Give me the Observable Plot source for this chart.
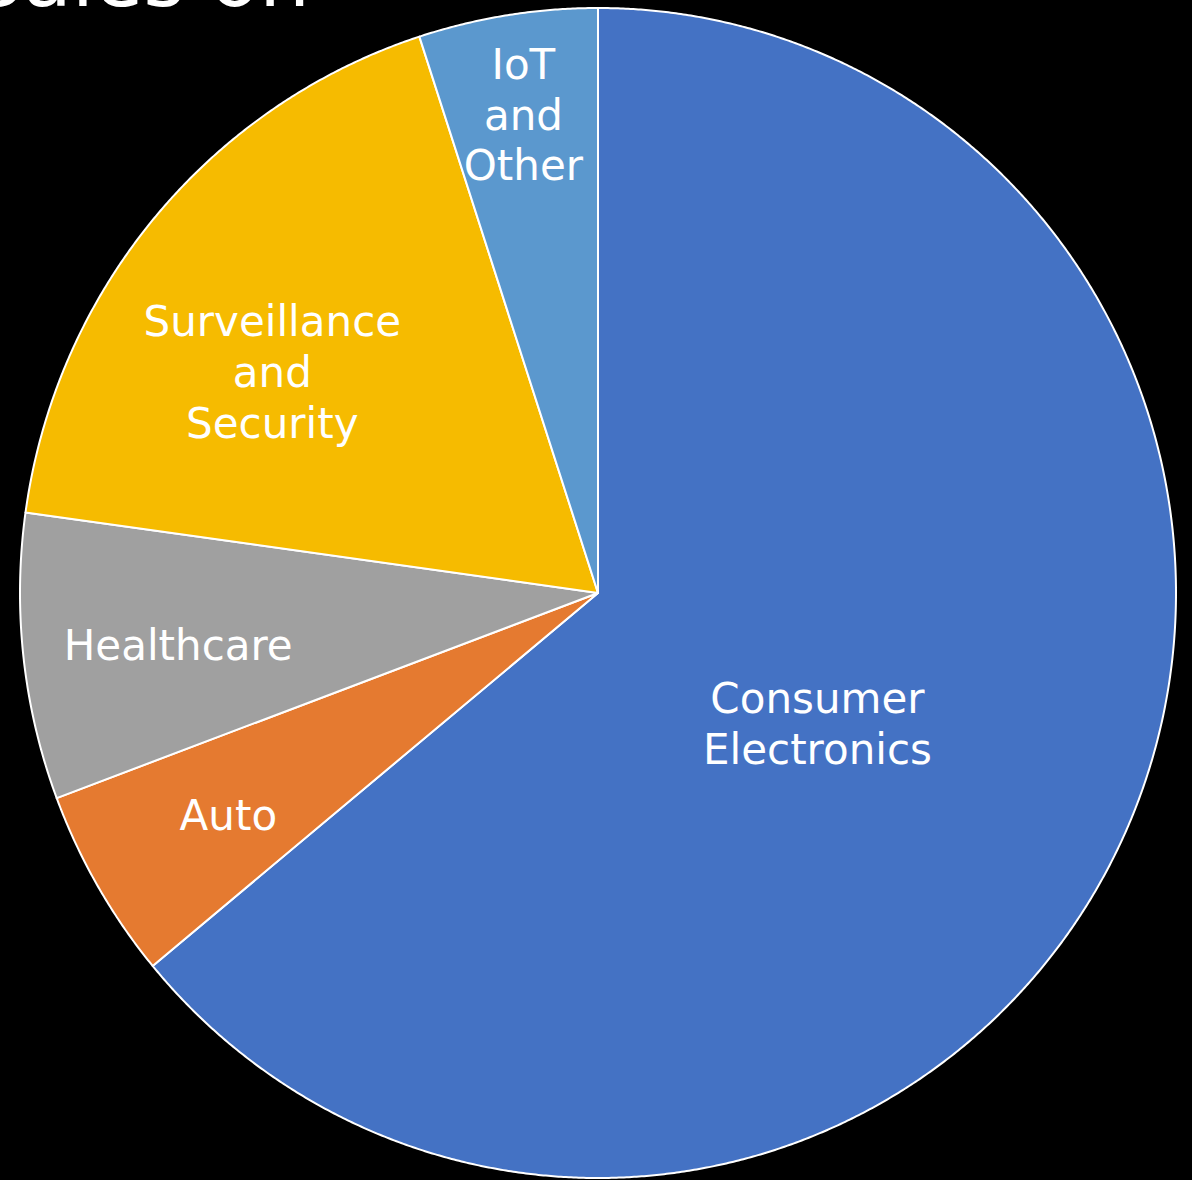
<!DOCTYPE html>
<html>
<head>
<meta charset="utf-8">
<script src="https://cdn.jsdelivr.net/npm/d3@7"></script>
<script src="https://cdn.jsdelivr.net/npm/@observablehq/plot@0.6"></script>
<style>
  html, body { margin: 0; padding: 0; background: #000; overflow: hidden; }
  #wrap { position: relative; width: 1192px; height: 1180px; overflow: hidden; }
  #title { position: absolute; right: 882px; top: -61px; text-align: right; font-family: "DejaVu Sans", sans-serif; font-size: 80px; color: #fff; white-space: nowrap; line-height: 1; }
</style>
</head>
<body>
<div id="wrap">
  <div id="chart"></div>
  <div id="title">Sales on</div>
</div>
<script>
// Data (clockwise from 12 o'clock)
const categories = ["Consumer Electronics", "Auto", "Healthcare", "Surveillance and Security", "IoT and Other"];
const shares = [64.0, 5.3, 7.9, 17.8, 5.0];
const labels = ["Consumer\nElectronics", "Auto", "Healthcare", "Surveillance\nand\nSecurity", "IoT\nand\nOther"];
const colors = ["#4472C4", "#E57A30", "#A0A0A0", "#F6BB00", "#5B98CE"];

// Layout constants
const W = 1192, H = 1180;
const CX = 597.5, CY = 592.5, RX = 578, RY = 585;
const labelPlace = [ [0.442, 5.6], [0.745, -0.8], [0.732, -0.9], [0.677, -6.3], [0.825, 0] ]; // [radius fraction, angle shift deg]

const pie = d3.pie().sort(null).value(d => d)(shares);

const pts = [];
pie.forEach((p, i) => {
  const name = categories[i];
  pts.push({name, x: 0, y: 0});
  const n = Math.max(4, Math.ceil((p.endAngle - p.startAngle) / (Math.PI / 720)));
  for (let k = 0; k <= n; k++) {
    const a = p.startAngle + (p.endAngle - p.startAngle) * k / n;
    pts.push({name, x: Math.sin(a), y: Math.cos(a)});
  }
});

const labelData = pie.map((p, i) => {
  const a = (p.startAngle + p.endAngle) / 2 + labelPlace[i][1] * Math.PI / 180;
  const r = labelPlace[i][0];
  return {name: categories[i], text: labels[i], x: r * Math.sin(a), y: r * Math.cos(a)};
});

const chart = Plot.plot({
  width: W,
  height: H,
  margin: 0,
  style: {background: "#000", fontFamily: "'DejaVu Sans', sans-serif"},
  x: {domain: [-CX / RX, (W - CX) / RX], axis: null},
  y: {domain: [-(H - CY) / RY, CY / RY], axis: null},
  color: {domain: categories, range: colors},
  marks: [
    Plot.line(pts, {x: "x", y: "y", z: "name", fill: "name", stroke: "#fff", strokeWidth: 2, curve: "linear-closed"}),
    Plot.text(labelData, {x: "x", y: "y", text: "text", fill: "#fff", fontSize: 42, lineHeight: 1.21, textAnchor: "middle", lineAnchor: "middle", dy: -3})
  ]
});
document.getElementById("chart").appendChild(chart);
</script>
</body>
</html>
